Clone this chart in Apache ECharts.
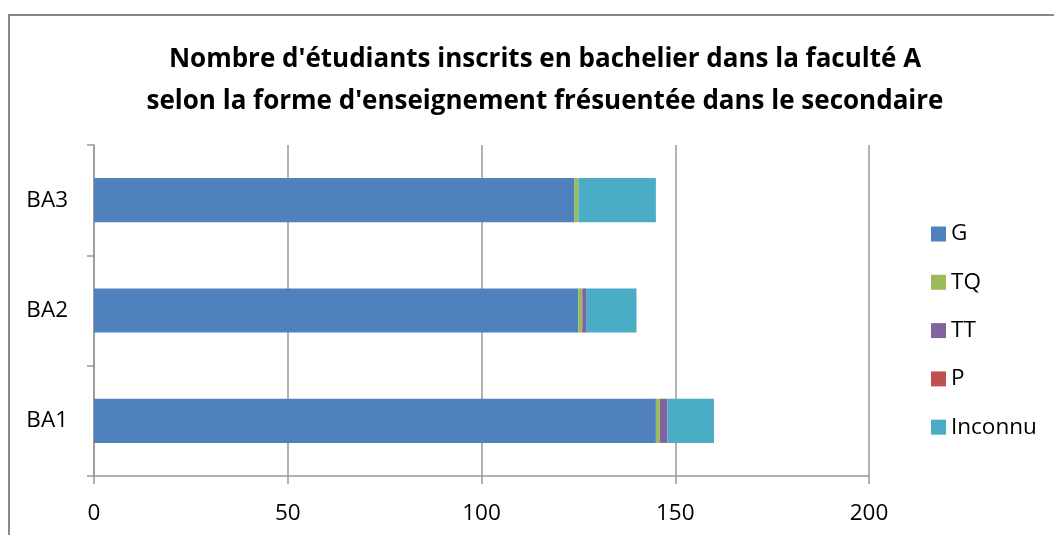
<!DOCTYPE html>
<html>
<head>
<meta charset="utf-8">
<script src="https://cdn.jsdelivr.net/npm/echarts@6/dist/echarts.min.js"></script>
<style>
  html, body { margin: 0; padding: 0; background: #fff; }
  .frame { position: absolute; left: 8px; top: 14px; width: 1060px; height: 540px; border: 2px solid #888; box-sizing: border-box; }
  #chart { position: absolute; left: 0; top: 0; width: 1054px; height: 535px; }
</style>
</head>
<body>
<div class="frame"></div>
<div id="chart"></div>
<script>
// catégories (du bas vers le haut)
var categories = ["BA1", "BA2", "BA3"];
var seriesNames = ["G", "TQ", "TT", "P", "Inconnu"];
var valG = [145, 125, 124];
var valTQ = [1, 1, 1];
var valTT = [2, 1, 0];
var valP = [0, 0, 0];
var valInconnu = [12, 13, 20];
var xTicks = [0, 50, 100, 150, 200];

var colors = ["#4F81BD", "#9BBB59", "#8064A2", "#C0504D", "#4BACC6"];
var font = "'Open Sans', sans-serif";
var lineColor = "#999";

var chart = echarts.init(document.getElementById("chart"));
var dataList = [valG, valTQ, valTT, valP, valInconnu];

var option = {
  animation: false,
  color: colors,
  title: {
    text: "Nombre d'étudiants inscrits en bachelier dans la faculté A\nselon la forme d'enseignement frésuentée dans le secondaire",
    left: 540,
    top: 34,
    textAlign: "center",
    textStyle: {
      fontFamily: font,
      fontSize: 26,
      fontWeight: "bold",
      color: "#000",
      lineHeight: 42
    }
  },
  legend: {
    orient: "vertical",
    left: 926,
    top: 217,
    icon: "rect",
    itemWidth: 15,
    itemHeight: 15,
    itemGap: 24.3,
    data: seriesNames,
    textStyle: { fontFamily: font, fontSize: 22.5, color: "#000", lineHeight: 24 }
  },
  grid: { left: 94, right: 185, top: 145, bottom: 59 },
  xAxis: {
    type: "value",
    min: xTicks[0],
    max: xTicks[xTicks.length - 1],
    interval: 50,
    axisLine: { show: true, lineStyle: { color: lineColor, width: 1.5 } },
    axisTick: { show: true, length: 8, lineStyle: { color: lineColor, width: 1.5 } },
    axisLabel: { fontFamily: font, fontSize: 22.5, color: "#000", margin: 26 },
    splitLine: { show: true, lineStyle: { color: lineColor, width: 1.5 } }
  },
  yAxis: {
    type: "category",
    data: categories,
    axisLine: { show: true, lineStyle: { color: lineColor, width: 1.5 } },
    axisTick: { show: true, length: 7, lineStyle: { color: lineColor, width: 1.5 } },
    axisLabel: { fontFamily: font, fontSize: 22.5, color: "#000", margin: 26 }
  },
  series: seriesNames.map(function (name, i) {
    return {
      name: name,
      type: "bar",
      stack: "total",
      barCategoryGap: "60%",
      data: dataList[i]
    };
  })
};
chart.setOption(option);
</script>
</body>
</html>
